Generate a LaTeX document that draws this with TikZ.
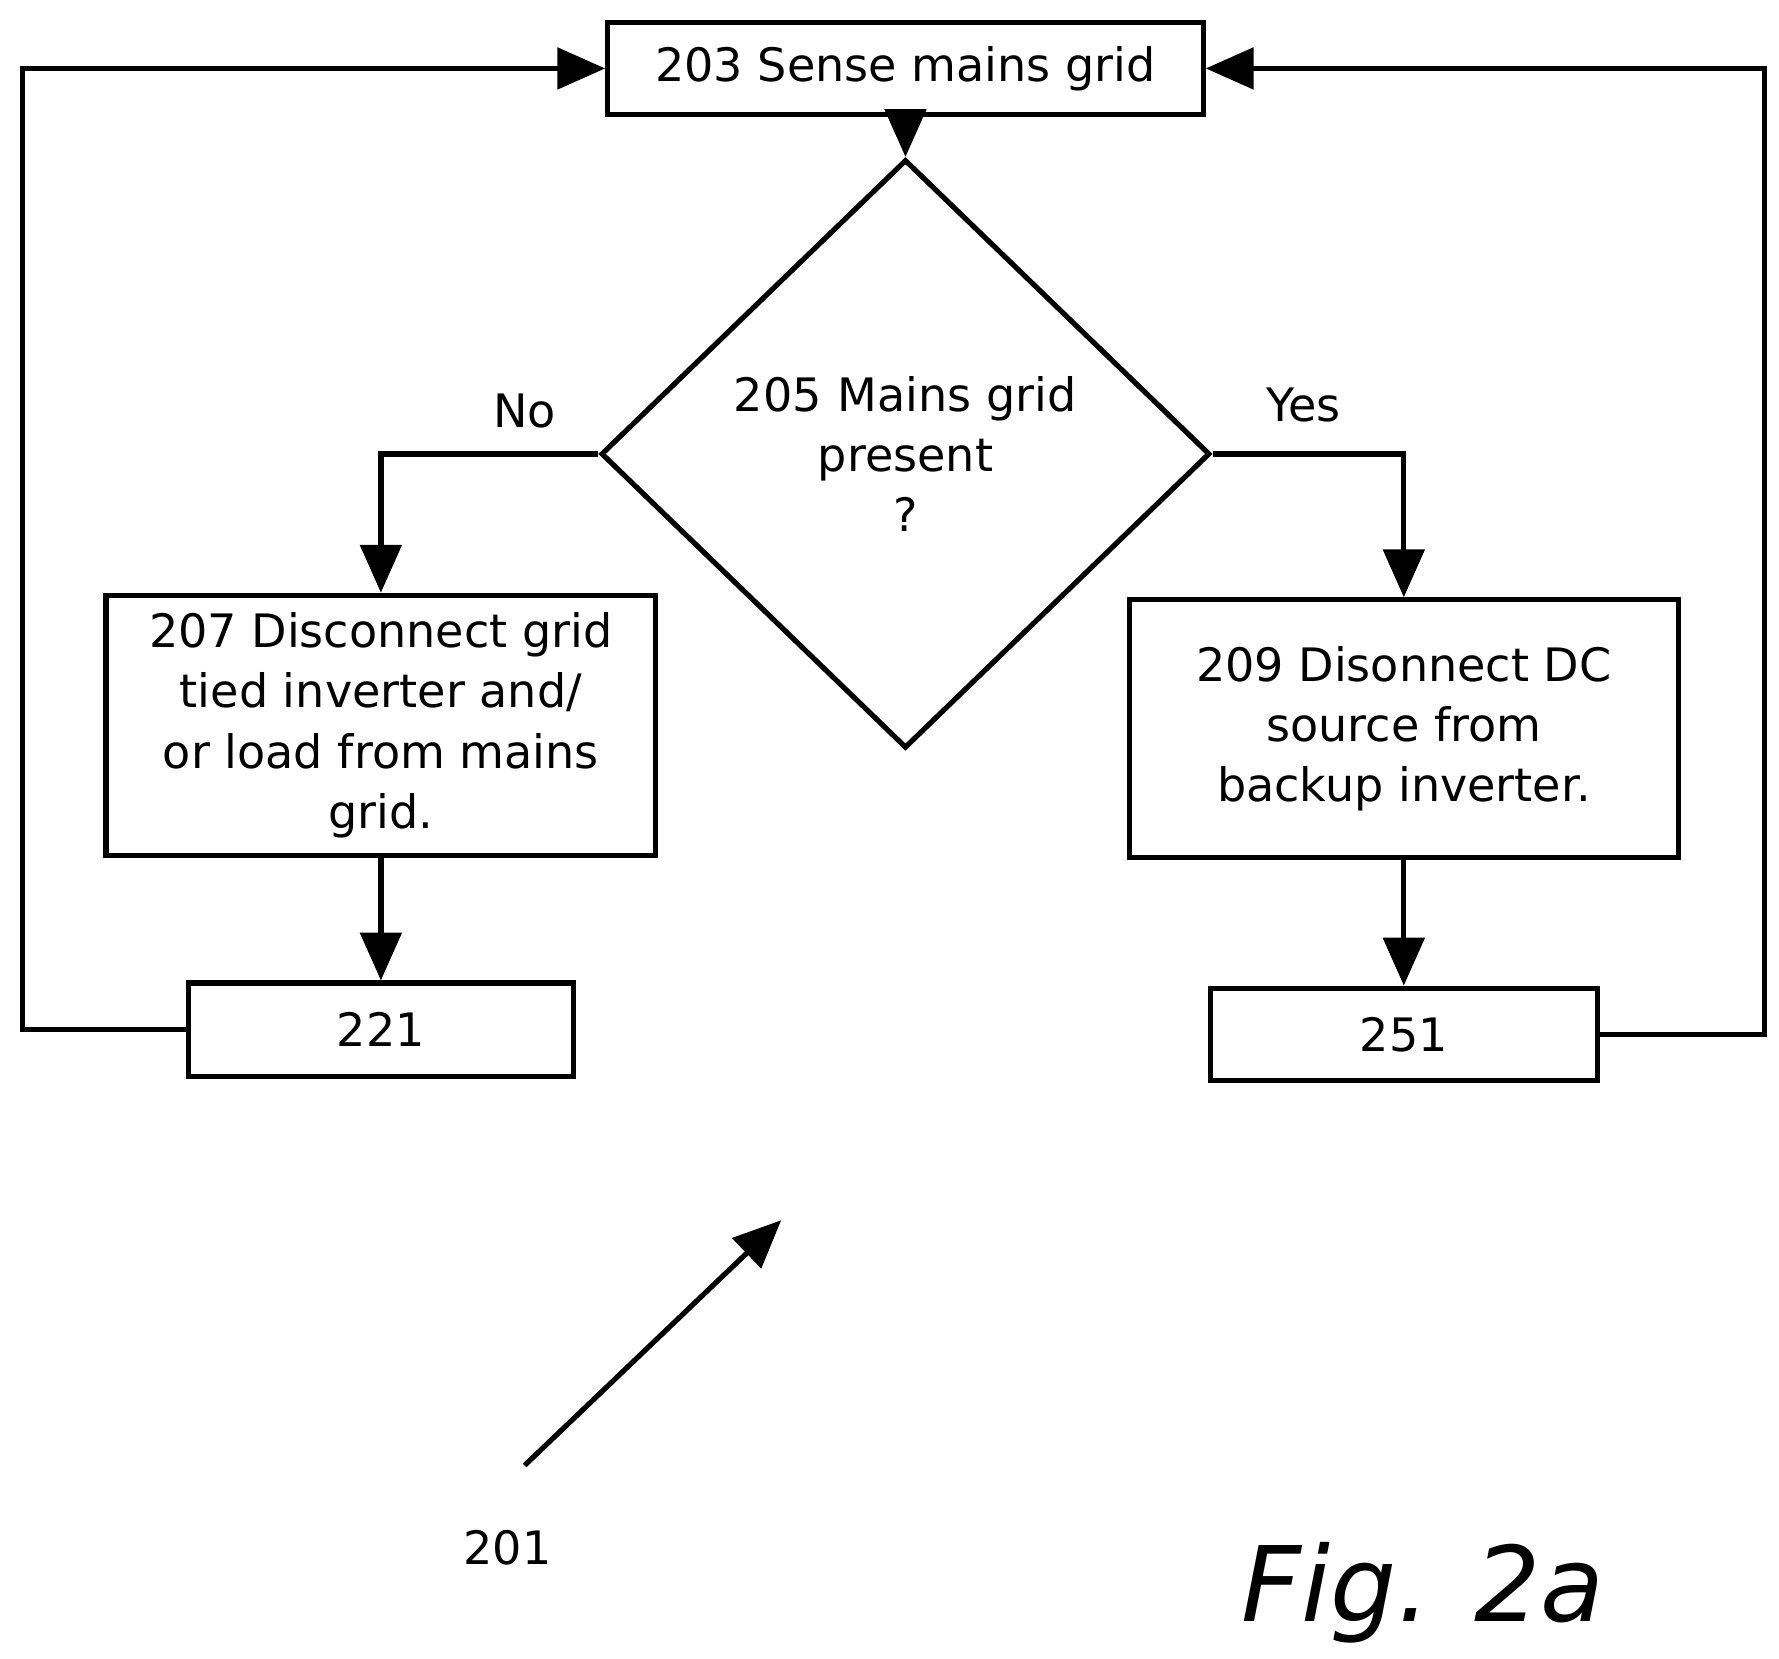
\documentclass[tikz,border=0pt]{standalone}
\usepackage{fontspec}
\setmainfont{DejaVu Sans}
\usetikzlibrary{arrows.meta,shapes.geometric}
\tikzset{
  box/.style={draw,line width=1.3pt,align=center,inner sep=0pt,font=\fontsize{11.5}{15}\selectfont},
  flow/.style={line width=1.3pt,-{Triangle[length=0.42cm,width=0.36cm]}},
  lbl/.style={font=\fontsize{11.5}{14}\selectfont}
}
\begin{document}
\begin{tikzpicture}
\useasboundingbox (0,0) rectangle (15.6,-14.54);
\node [box,minimum width=5.22cm,minimum height=0.81cm] (sense) at (7.94,-0.60) {203 Sense mains grid};
\node [box,diamond,minimum width=5.34cm,minimum height=3.0cm,text width=3.8cm] (present) at (7.94,-3.98) {205 Mains grid\\present\\?};
\node [box,minimum width=4.82cm,minimum height=2.28cm] (disgrid) at (3.34,-6.36) {207 Disconnect grid\\tied inverter and/\\or load from mains\\grid.};
\node [box,minimum width=4.81cm,minimum height=2.26cm] (disdc) at (12.31,-6.39) {209 Disonnect DC\\source from\\backup inverter.};
\node [box,minimum width=3.38cm,minimum height=0.82cm] (s221) at (3.34,-9.03) {221};
\node [box,minimum width=3.39cm,minimum height=0.81cm] (s251) at (12.31,-9.07) {251};
\node [lbl] (no) at (4.60,-3.60) {No};
\node [lbl] (yes) at (11.43,-3.55) {Yes};
% flow arrows
\draw [flow] (sense) -- (present);
\draw [flow] (present.west) -| (disgrid.north);
\draw [flow] (present.east) -| (disdc.north);
\draw [flow] (disgrid) -- (s221);
\draw [flow] (disdc) -- (s251);
% loops back to the top
\draw [flow] (s221.west) -- (0.20,-9.03) |- (sense.west);
\draw [flow] (s251.east) -- (15.47,-9.07) |- (sense.east);
% reference arrow
\coordinate (tail) at (4.60,-12.85);
\coordinate (head) at (6.85,-10.70);
\draw [flow] (tail) -- (head);
\node [lbl] (ref) at (4.45,-13.57) {201};
\node [font=\fontsize{26}{30}\selectfont\itshape] (fig) at (12.48,-13.97) {Fig. 2a};
\end{tikzpicture}
\end{document}
